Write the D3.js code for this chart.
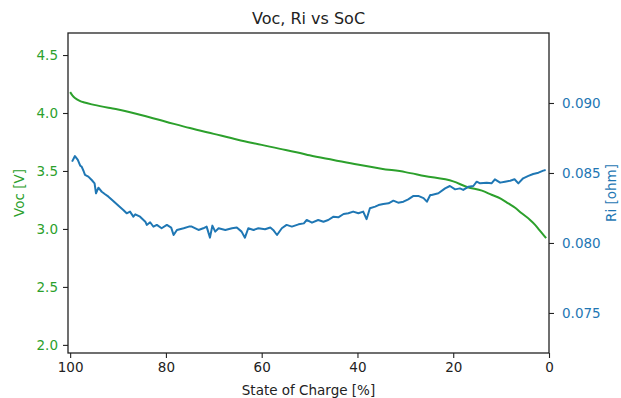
<!DOCTYPE html>
<html>
<head>
<meta charset="utf-8">
<script src="https://cdn.jsdelivr.net/npm/d3@7"></script>
<style>
  html, body { margin: 0; padding: 0; background: #fff; }
  svg text { font-family: "DejaVu Sans", sans-serif; }
</style>
</head>
<body>
<svg id="chart" width="621" height="398"></svg>
<script>
// Open-circuit voltage vs state of charge
const vocSoc = [100, 99.5, 99, 98, 97, 95, 92, 90, 85, 80, 75, 70, 65, 60, 55, 52, 50, 45, 40, 35, 30, 26, 20, 17, 14, 12, 10, 8.5, 7, 5.7, 4, 3, 2, 1, 0.6];
const vocValues = [4.18, 4.15, 4.13, 4.105, 4.09, 4.07, 4.045, 4.03, 3.98, 3.925, 3.87, 3.82, 3.77, 3.725, 3.68, 3.655, 3.635, 3.595, 3.555, 3.52, 3.49, 3.457, 3.41, 3.36, 3.33, 3.295, 3.26, 3.22, 3.18, 3.135, 3.08, 3.04, 2.99, 2.94, 2.92];

// Internal resistance vs state of charge
const riSoc = [99.6, 99.0, 98.4, 97.9, 97.6, 97.2, 96.9, 96.2, 95.5, 94.9, 94.6, 94.1, 93.4, 92.7, 92.0, 91.0, 89.9, 88.9, 88.2, 87.5, 86.8, 86.4, 85.4, 84.3, 84.0, 83.3, 82.6, 81.9, 80.9, 79.8, 78.9, 78.4, 77.7, 76.3, 75.2, 74.6, 73.2, 72.2, 71.5, 70.8, 70.3, 69.7, 69.0, 67.6, 66.2, 65.2, 64.2, 63.5, 62.8, 61.7, 60.7, 59.3, 58.2, 57.6, 56.8, 55.8, 54.8, 53.7, 52.3, 51.2, 50.6, 49.9, 49.5, 48.2, 47.1, 46.1, 45.0, 44.0, 42.9, 41.9, 40.9, 39.8, 38.8, 38.1, 37.4, 36.3, 35.6, 34.6, 33.5, 32.5, 31.5, 30.4, 29.4, 28.3, 27.3, 26.2, 25.5, 24.8, 24.5, 23.1, 21.7, 20.7, 19.6, 18.6, 17.9, 16.8, 15.8, 15.1, 14.4, 13.0, 12.0, 11.3, 10.2, 9.2, 8.1, 7.2, 6.4, 5.4, 4.3, 3.3, 2.2, 1.2, 0.7];
const riValues = [0.08581, 0.08621, 0.08593, 0.08552, 0.08545, 0.08514, 0.08486, 0.08474, 0.0845, 0.08426, 0.08355, 0.08395, 0.08366, 0.08348, 0.08331, 0.0830, 0.08266, 0.08236, 0.08212, 0.08224, 0.08188, 0.08205, 0.08188, 0.08152, 0.08129, 0.08148, 0.08116, 0.08129, 0.08105, 0.08129, 0.0811, 0.08057, 0.08093, 0.08105, 0.08117, 0.08117, 0.08093, 0.08105, 0.08117, 0.08038, 0.08124, 0.08081, 0.08105, 0.08093, 0.08105, 0.0811, 0.08081, 0.08038, 0.08105, 0.08093, 0.08105, 0.08098, 0.0811, 0.08093, 0.08057, 0.08105, 0.08129, 0.08117, 0.08133, 0.0814, 0.08164, 0.08152, 0.08145, 0.08164, 0.08152, 0.08164, 0.08188, 0.08183, 0.08207, 0.08212, 0.08224, 0.08212, 0.08224, 0.0817, 0.08248, 0.0826, 0.08271, 0.08279, 0.08283, 0.08302, 0.08288, 0.08295, 0.08312, 0.08336, 0.08336, 0.0832, 0.08295, 0.08343, 0.08343, 0.08355, 0.0839, 0.08407, 0.08383, 0.0839, 0.08379, 0.08402, 0.08407, 0.08438, 0.08426, 0.08431, 0.08426, 0.08455, 0.08431, 0.08438, 0.08445, 0.08455, 0.08426, 0.08462, 0.08479, 0.08493, 0.08502, 0.08517, 0.08521];

// Tick labels
const socTicks = [100, 80, 60, 40, 20, 0];
const vocTicks = [2.0, 2.5, 3.0, 3.5, 4.0, 4.5];
const riTicks = [0.075, 0.080, 0.085, 0.090];

const green = "#2ca02c";
const blue = "#1f77b4";

const svg = d3.select("#chart");
const m = { left: 68, right: 549, top: 33, bottom: 353 };

const x = d3.scaleLinear().domain([100.45, 0]).range([m.left, m.right]);
const yV = d3.scaleLinear().domain([1.93, 4.69]).range([m.bottom, m.top]);
const yR = d3.scaleLinear().domain([0.07214, 0.0950]).range([m.bottom, m.top]);

// Curves
const vocLine = d3.line()
  .x((d, i) => x(vocSoc[i]))
  .y(d => yV(d))
  .curve(d3.curveMonotoneX);
svg.append("path")
  .datum(vocValues)
  .attr("d", vocLine)
  .attr("fill", "none")
  .attr("stroke", green)
  .attr("stroke-width", 2);

const riLine = d3.line()
  .x((d, i) => x(riSoc[i]))
  .y(d => yR(d));
svg.append("path")
  .datum(riValues)
  .attr("d", riLine)
  .attr("fill", "none")
  .attr("stroke", blue)
  .attr("stroke-width", 2)
  .attr("stroke-linejoin", "round");

// Frame
svg.append("rect")
  .attr("x", m.left).attr("y", m.top)
  .attr("width", m.right - m.left).attr("height", m.bottom - m.top)
  .attr("fill", "none").attr("stroke", "#222").attr("stroke-width", 1.3);

function styleAxis(g, color) {
  g.select(".domain").remove();
  g.selectAll(".tick line").attr("stroke", "#222").attr("stroke-width", 1.1);
  g.selectAll(".tick text")
    .attr("fill", color)
    .style("font-size", "13.5px")
    .style("font-family", "DejaVu Sans, sans-serif");
}

svg.append("g")
  .attr("transform", `translate(0,${m.bottom})`)
  .call(d3.axisBottom(x).tickValues(socTicks).tickFormat(d3.format("d")).tickSize(5).tickPadding(4))
  .call(g => styleAxis(g, "#222"));

svg.append("g")
  .attr("transform", `translate(${m.left},0)`)
  .call(d3.axisLeft(yV).tickValues(vocTicks).tickFormat(d3.format(".1f")).tickSize(5).tickPadding(5))
  .call(g => styleAxis(g, green));

svg.append("g")
  .attr("transform", `translate(${m.right},0)`)
  .call(d3.axisRight(yR).tickValues(riTicks).tickFormat(d3.format(".3f")).tickSize(5).tickPadding(8))
  .call(g => styleAxis(g, blue));

// Titles
svg.append("text")
  .attr("x", (m.left + m.right) / 2).attr("y", 24)
  .attr("text-anchor", "middle")
  .style("font-size", "16px").attr("fill", "#222")
  .text("Voc, Ri vs SoC");

svg.append("text")
  .attr("x", (m.left + m.right) / 2).attr("y", 395)
  .attr("text-anchor", "middle")
  .style("font-size", "13.5px").attr("fill", "#222")
  .text("State of Charge [%]");

svg.append("text")
  .attr("transform", `translate(24,${(m.top + m.bottom) / 2}) rotate(-90)`)
  .attr("text-anchor", "middle")
  .style("font-size", "13.5px").attr("fill", green)
  .text("Voc [V]");

svg.append("text")
  .attr("transform", `translate(616,${(m.top + m.bottom) / 2}) rotate(-90)`)
  .attr("text-anchor", "middle")
  .style("font-size", "13.5px").attr("fill", blue)
  .text("Ri [ohm]");
</script>
</body>
</html>
